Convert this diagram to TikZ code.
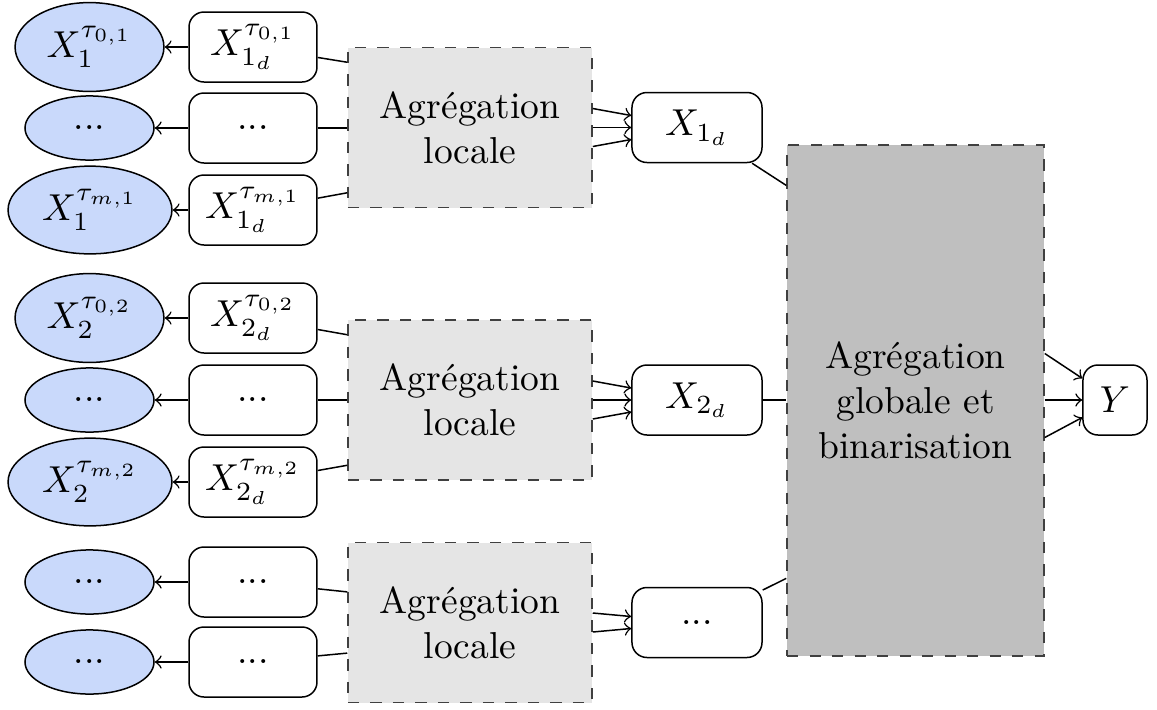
\documentclass[tikz,border=0pt]{standalone}
\usetikzlibrary{shapes.geometric,calc}
\definecolor{ellblue}{RGB}{201,217,251}
\begin{document}
\begin{tikzpicture}[x=0.26667pt,y=-0.26667pt,
  ell/.style={ellipse,draw,fill=ellblue,inner sep=0pt},
  elltau/.style={ell,minimum width=39.7pt,minimum height=23.7pt},
  ellm/.style={ell,minimum width=43.7pt,minimum height=23.4pt},
  elldots/.style={ell,minimum width=34.4pt,minimum height=17.1pt},
  rbox/.style={draw,rounded corners=4pt,fill=white,inner sep=0pt,minimum width=34.13pt,minimum height=18.67pt},
  midbox/.style={rbox,minimum width=34.67pt},
  ybox/.style={rbox,minimum width=17.07pt},
  aggbox/.style={draw=black!75,dashed,fill=gray!20,inner sep=0pt,align=center,minimum width=65.07pt,minimum height=42.67pt},
  globbox/.style={draw=black!75,dashed,fill=gray!50,inner sep=0pt,align=center,minimum width=68.53pt,minimum height=136.27pt},
  arr/.style={->},
  link/.style={}]
\useasboundingbox (0,0) rectangle (1157,709);

% group 1
\node[elltau]  (e11) at (89.5,47)  {$X_1^{\tau_{0,1}}$};
\node[elldots] (e12) at (89.5,128) {...};
\node[ellm]    (e13) at (90,210)   {$X_1^{\tau_{m,1}}$};
\node[rbox] (b11) at (253,47)  {$X_{1_d}^{\tau_{0,1}}$};
\node[rbox] (b12) at (253,128) {...};
\node[rbox] (b13) at (253,210) {$X_{1_d}^{\tau_{m,1}}$};
\node[aggbox] (a1) at (470,127.5) {Agrégation\\locale};
\node[midbox] (m1) at (697,127.5) {$X_{1_d}$};

% group 2
\node[elltau]  (e21) at (89.5,318) {$X_2^{\tau_{0,2}}$};
\node[elldots] (e22) at (89.5,400) {...};
\node[ellm]    (e23) at (90,482)   {$X_2^{\tau_{m,2}}$};
\node[rbox] (b21) at (253,318) {$X_{2_d}^{\tau_{0,2}}$};
\node[rbox] (b22) at (253,400) {...};
\node[rbox] (b23) at (253,482) {$X_{2_d}^{\tau_{m,2}}$};
\node[aggbox] (a2) at (470,400) {Agrégation\\locale};
\node[midbox] (m2) at (697,400) {$X_{2_d}$};

% group 3
\node[elldots] (e31) at (89.5,582) {...};
\node[elldots] (e32) at (89.5,662) {...};
\node[rbox] (b31) at (253,582) {...};
\node[rbox] (b32) at (253,662) {...};
\node[aggbox] (a3) at (470,622.5) {Agrégation\\locale};
\node[midbox] (m3) at (697,622.5) {...};

% global
\node[globbox] (g) at (915.5,400.5) {Agrégation\\globale et\\binarisation};
\node[ybox] (y) at (1115,400) {$Y$};

% box -> ellipse
\foreach \i in {11,12,13,21,22,23,31,32}
  \draw[arr] (b\i) -- (e\i);

% box -> local aggregation
\draw[link] (b11) -- (a1.152);
\draw[link] (b12) -- (b12 -| a1.west);
\draw[link] (b13) -- (a1.208);
\draw[link] (b21) -- (a2.152);
\draw[link] (b22) -- (b22 -| a2.west);
\draw[link] (b23) -- (a2.208);
\draw[link] (b31) -- (a3.166);
\draw[link] (b32) -- (a3.194);

% local aggregation -> mid
\draw[arr] ($(a1.east)+(0,-19)$) -- (m1);
\draw[arr] (a1.east) -- (m1);
\draw[arr] ($(a1.east)+(0,19)$) -- (m1);
\draw[arr] ($(a2.east)+(0,-19)$) -- (m2);
\draw[arr] (a2.east) -- (m2);
\draw[arr] ($(a2.east)+(0,19)$) -- (m2);
\draw[arr] ($(a3.east)+(0,-9.5)$) -- (m3);
\draw[arr] ($(a3.east)+(0,9.5)$) -- (m3);

% mid -> global
\draw[link] (m1) -- (g.121);
\draw[link] (m2) -- (m2 -| g.west);
\draw[link] (m3) -- (g.234);

% global -> Y
\draw[arr] ($(g.east)+(0,-47)$) -- (y);
\draw[arr] ($(g.east)+(0,-0.5)$) -- (y);
\draw[arr] ($(g.east)+(0,37)$) -- (y);
\end{tikzpicture}
\end{document}
